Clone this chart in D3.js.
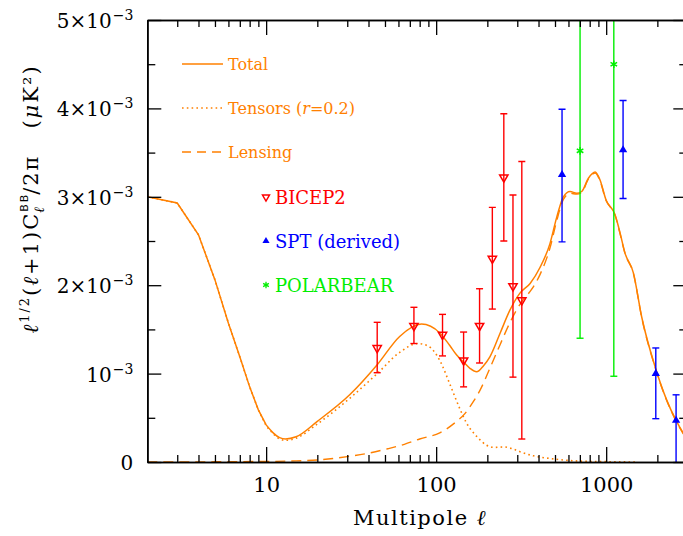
<!DOCTYPE html>
<html>
<head>
<meta charset="utf-8">
<script src="https://cdn.jsdelivr.net/npm/d3@7"></script>
<style>
  body { margin: 0; background: #fff; }
</style>
</head>
<body>
<div id="chart"></div>
<script>
// Theory curves: [multipole l, value in units of 1e-3 uK^2]
const totalCurve = [[2,3.00],[3,2.93],[4,2.57],[5,2.06],[6,1.57],[7,1.19],[8,0.85],[9,0.59],[10,0.42],[11,0.33],[12,0.275],[13,0.26],[15,0.285],[20,0.46],[31,0.76],[45,1.10],[61,1.42],[82,1.56],[105,1.46],[120,1.32],[132,1.21],[145,1.13],[158,1.06],[173,1.02],[190,1.09],[207,1.19],[238,1.46],[272,1.72],[311,1.91],[357,2.02],[408,2.20],[467,2.47],[512,2.77],[560,3.00],[613,3.06],[671,3.04],[718,3.06],[786,3.21],[861,3.28],[920,3.19],[1000,2.96],[1101,2.84],[1126,2.80],[1200,2.61],[1292,2.36],[1445,2.14],[1618,1.64],[1937,1.08],[2270,0.70],[2577,0.47],[2832,0.33],[3000,0.26]];
const tensorCurve = [[2,3.00],[3,2.93],[4,2.57],[5,2.06],[6,1.57],[7,1.19],[8,0.85],[9,0.59],[10,0.41],[11,0.32],[12,0.26],[13,0.245],[15,0.27],[20,0.43],[31,0.72],[45,1.00],[61,1.24],[78,1.34],[90,1.31],[105,1.15],[121,0.87],[138,0.60],[151,0.44],[173,0.29],[198,0.19],[220,0.165],[250,0.17],[280,0.15],[311,0.117],[373,0.07],[467,0.04],[560,0.023],[700,0.01],[1000,0.004],[1500,0.0]];
const lensingCurve = [[2,0.0],[5,0.002],[10,0.006],[15,0.013],[20,0.023],[31,0.065],[40,0.10],[52,0.15],[65,0.20],[80,0.26],[105,0.33],[132,0.46],[148,0.55],[165,0.68],[181,0.81],[207,1.06],[238,1.33],[272,1.58],[326,1.84],[357,1.93],[408,2.12],[467,2.42],[512,2.73],[560,2.97],[613,3.04],[671,3.03],[718,3.05],[786,3.20],[861,3.27],[920,3.18],[1000,2.955],[1101,2.835],[1126,2.795],[1200,2.60],[1292,2.355],[1445,2.135],[1618,1.635],[1937,1.075],[2270,0.695],[2577,0.465],[2832,0.325],[3000,0.255]];

// Band powers
const bicepL  = [45, 74, 109, 145, 180, 214, 250, 283, 319];
const bicepV  = [1.29, 1.54, 1.44, 1.15, 1.54, 2.30, 3.22, 1.99, 1.83];
const bicepHi = [1.58, 1.75, 1.67, 1.47, 1.96, 2.88, 3.94, 3.02, 3.40];
const bicepLo = [1.01, 1.34, 1.20, 0.85, 1.12, 1.73, 2.50, 0.96, 0.26];

const sptL  = [550, 1257, 1958, 2577];
const sptV  = [3.25, 3.53, 1.00, 0.47];
const sptHi = [3.99, 4.09, 1.29, 0.76];
const sptLo = [2.49, 2.98, 0.49, -0.2];

const pbL  = [702, 1109];
const pbV  = [3.52, 4.50];
const pbHi = [6.5, 8.0];
const pbLo = [1.40, 0.97];

// Axis ticks
const xMajor = [10, 100, 1000];
const xMinor = [3, 4, 5, 6, 7, 8, 9, 20, 30, 40, 50, 60, 70, 80, 90, 200, 300, 400, 500, 600, 700, 800, 900, 2000];
const yMajor = [0, 1, 2, 3, 4, 5];
const yMinor = [0.5, 1.5, 2.5, 3.5, 4.5];
const yTickMant = ["0", "10", "2\u00d710", "3\u00d710", "4\u00d710", "5\u00d710"];
const yTickExp  = ["", "\u22123", "\u22123", "\u22123", "\u22123", "\u22123"];

const ORANGE = "#ff8000";
const RED = "#ff0000";
const BLUE = "#0000ff";
const GREEN = "#00ee00";
const SERIF = "DejaVu Serif";

const width = 683;
const height = 536;
const marginLeft = 147.3, marginRight = 687.3, marginTop = 20, marginBottom = 462;

const svg = d3.create("svg")
    .attr("width", width)
    .attr("height", height)
    .attr("viewBox", [0, 0, width, height])
    .style("background", "#fff");

const x = d3.scaleLog().domain([2, 3000]).range([marginLeft, marginRight]);
const y = d3.scaleLinear().domain([0, 5]).range([marginBottom, marginTop]);

svg.append("clipPath").attr("id", "plot-clip")
    .append("rect")
    .attr("x", marginLeft).attr("y", marginTop)
    .attr("width", marginRight - marginLeft).attr("height", marginBottom - marginTop);

const plot = svg.append("g").attr("clip-path", "url(#plot-clip)");

// Curves: the integer-l part at low l is drawn as straight segments, the rest smoothed
const lineLow = d3.line()
    .x(d => x(d[0]))
    .y(d => y(d[1]));
const lineHigh = d3.line()
    .x(d => x(d[0]))
    .y(d => y(d[1]))
    .curve(d3.curveMonotoneX);
const split = 10;

function drawCurve(data, styleFn) {
    const low = data.filter(d => d[0] <= split);
    const high = data.filter(d => d[0] >= split);
    const p = plot.append("path").attr("d", lineLow(low) + lineHigh(high).replace(/^M/, "L"));
    p.attr("fill", "none").attr("stroke", ORANGE);
    styleFn(p);
}

drawCurve(lensingCurve, p => p.attr("stroke-width", 1.4).attr("stroke-dasharray", "10,6"));
drawCurve(tensorCurve, p => p.attr("stroke-width", 1.6).attr("stroke-dasharray", "1.6,3.2"));
drawCurve(totalCurve, p => p.attr("stroke-width", 1.5));

// Error bars and markers
function errorBars(ls, vs, his, los, color) {
    const g = plot.append("g").attr("stroke", color).attr("stroke-width", 1.4);
    ls.forEach((l, i) => {
        const cx = x(l);
        g.append("line").attr("x1", cx).attr("x2", cx)
            .attr("y1", y(his[i])).attr("y2", y(los[i]));
        g.append("line").attr("x1", cx - 3.5).attr("x2", cx + 3.5)
            .attr("y1", y(his[i])).attr("y2", y(his[i]));
        g.append("line").attr("x1", cx - 3.5).attr("x2", cx + 3.5)
            .attr("y1", y(los[i])).attr("y2", y(los[i]));
    });
}

const triDown = d3.symbol(d3.symbolTriangle, 30);
const triUp = d3.symbol(d3.symbolTriangle, 30);
const aster = d3.symbol(d3.symbolAsterisk, 40);

errorBars(bicepL, bicepV, bicepHi, bicepLo, RED);
errorBars(sptL, sptV, sptHi, sptLo, BLUE);
errorBars(pbL, pbV, pbHi, pbLo, GREEN);

plot.selectAll(".bicep").data(bicepL).join("path")
    .attr("class", "bicep")
    .attr("d", triDown)
    .attr("transform", (d, i) => `translate(${x(d)},${y(bicepV[i])}) rotate(180)`)
    .attr("fill", "none").attr("stroke", RED).attr("stroke-width", 1.5);

plot.selectAll(".spt").data(sptL).join("path")
    .attr("class", "spt")
    .attr("d", triUp)
    .attr("transform", (d, i) => `translate(${x(d)},${y(sptV[i])})`)
    .attr("fill", BLUE);

plot.selectAll(".pb").data(pbL).join("path")
    .attr("class", "pb")
    .attr("d", aster)
    .attr("transform", (d, i) => `translate(${x(d)},${y(pbV[i])})`)
    .attr("fill", "none").attr("stroke", GREEN).attr("stroke-width", 1.5);

// Frame and ticks
function styleAxis(g) {
    g.select(".domain").attr("stroke", "#000").attr("stroke-width", 1.6);
    g.selectAll(".tick line").attr("stroke", "#000").attr("stroke-width", 1.3);
}

svg.append("g").attr("transform", `translate(0,${marginBottom})`)
    .call(d3.axisBottom(x).tickValues(xMinor).tickSize(-7).tickSizeOuter(0).tickFormat(""))
    .call(styleAxis);
svg.append("g").attr("transform", `translate(0,${marginBottom})`)
    .call(d3.axisBottom(x).tickValues(xMajor).tickSize(-15).tickSizeOuter(0).tickFormat(d3.format("d")))
    .call(styleAxis)
    .call(g => g.selectAll(".tick text")
        .attr("y", 30).attr("dy", 0)
        .attr("font-family", SERIF).attr("font-size", 21).attr("fill", "#000"));

svg.append("g").attr("transform", `translate(0,${marginTop})`)
    .call(d3.axisTop(x).tickValues(xMinor).tickSize(-7).tickSizeOuter(0).tickFormat(""))
    .call(styleAxis);
svg.append("g").attr("transform", `translate(0,${marginTop})`)
    .call(d3.axisTop(x).tickValues(xMajor).tickSize(-15).tickSizeOuter(0).tickFormat(""))
    .call(styleAxis);

svg.append("g").attr("transform", `translate(${marginLeft},0)`)
    .call(d3.axisLeft(y).tickValues(yMinor).tickSize(-8).tickSizeOuter(0).tickFormat(""))
    .call(styleAxis);
svg.append("g").attr("transform", `translate(${marginLeft},0)`)
    .call(d3.axisLeft(y).tickValues(yMajor).tickSize(-14).tickSizeOuter(0).tickFormat(""))
    .call(styleAxis)
    .call(g => g.selectAll(".tick").each(function(d, i) {
        const t = d3.select(this).append("text")
            .attr("x", -14).attr("y", 7.5)
            .attr("text-anchor", "end")
            .attr("font-family", SERIF).attr("font-size", 20)
            .attr("fill", "#000");
        t.append("tspan").text(yTickMant[i]);
        if (yTickExp[i]) {
            t.append("tspan").attr("font-size", 14).attr("dy", -8).attr("dx", 1).text(yTickExp[i]);
        }
    }));

svg.append("g").attr("transform", `translate(${marginRight},0)`)
    .call(d3.axisRight(y).tickValues(yMinor).tickSize(-8).tickSizeOuter(0).tickFormat(""))
    .call(styleAxis);
svg.append("g").attr("transform", `translate(${marginRight},0)`)
    .call(d3.axisRight(y).tickValues(yMajor).tickSize(-14).tickSizeOuter(0).tickFormat(""))
    .call(styleAxis);

// Axis titles
const xt = svg.append("text")
    .attr("x", 420).attr("y", 525)
    .attr("text-anchor", "middle")
    .attr("font-family", SERIF).attr("font-size", 21)
    .attr("letter-spacing", 1.5);
xt.append("tspan").text("Multipole ");
xt.append("tspan").attr("font-style", "italic").text("\u2113");

const yt = svg.append("text")
    .attr("transform", "translate(38,199) rotate(-90)")
    .attr("text-anchor", "middle")
    .attr("font-family", SERIF).attr("font-size", 21)
    .attr("letter-spacing", 2);
yt.append("tspan").attr("font-style", "italic").text("\u2113");
yt.append("tspan").attr("font-size", 13).attr("dy", -9).text("1/2");
yt.append("tspan").attr("dy", 9).text("(");
yt.append("tspan").attr("font-style", "italic").text("\u2113");
yt.append("tspan").text("+1)C");
yt.append("tspan").attr("font-size", 11).attr("font-family", "DejaVu Sans").attr("dy", -10).text("BB");
yt.append("tspan").attr("font-size", 14).attr("font-style", "italic").attr("dx", -20).attr("dy", 16).text("\u2113");
yt.append("tspan").attr("dx", 10).attr("dy", -6).text("/2\u03c0");
yt.append("tspan").attr("dx", 26).text("(");
yt.append("tspan").attr("font-style", "italic").text("\u03bc");
yt.append("tspan").text("K\u00b2)");

// Legend: theory curves
const legCurves = [
    {label: "Total", dash: null, yy: 64},
    {label: "Tensors", dash: "1.6,3.2", yy: 108},
    {label: "Lensing", dash: "9,6", yy: 152}
];
legCurves.forEach(c => {
    svg.append("line")
        .attr("x1", 182).attr("x2", 223).attr("y1", c.yy).attr("y2", c.yy)
        .attr("stroke", ORANGE).attr("stroke-width", 1.5)
        .attr("stroke-dasharray", c.dash);
    const t = svg.append("text")
        .attr("x", 228).attr("y", c.yy + 6)
        .attr("font-family", SERIF).attr("font-size", 16)
        .attr("fill", ORANGE)
        .text(c.label);
    if (c.label === "Tensors") {
        t.append("tspan").text(" (");
        t.append("tspan").attr("font-style", "italic").text("r");
        t.append("tspan").text("=0.2)");
    }
});

// Legend: data sets
const legData = [
    {label: "BICEP2", color: RED, yy: 197},
    {label: "SPT (derived)", color: BLUE, yy: 241},
    {label: "POLARBEAR", color: GREEN, yy: 285}
];
legData.forEach((c, i) => {
    const m = svg.append("path").attr("transform", `translate(266,${c.yy})` + (i === 0 ? " rotate(180)" : ""));
    if (i === 0) m.attr("d", d3.symbol(d3.symbolTriangle, 22)).attr("fill", "none").attr("stroke", RED).attr("stroke-width", 1.4);
    if (i === 1) m.attr("d", d3.symbol(d3.symbolTriangle, 22)).attr("fill", BLUE);
    if (i === 2) m.attr("d", d3.symbol(d3.symbolAsterisk, 30)).attr("fill", "none").attr("stroke", GREEN).attr("stroke-width", 1.3);
    svg.append("text")
        .attr("x", 275).attr("y", c.yy + 7)
        .attr("font-family", SERIF).attr("font-size", 18)
        .attr("fill", c.color)
        .text(c.label);
});

document.getElementById("chart").appendChild(svg.node());
</script>
</body>
</html>
